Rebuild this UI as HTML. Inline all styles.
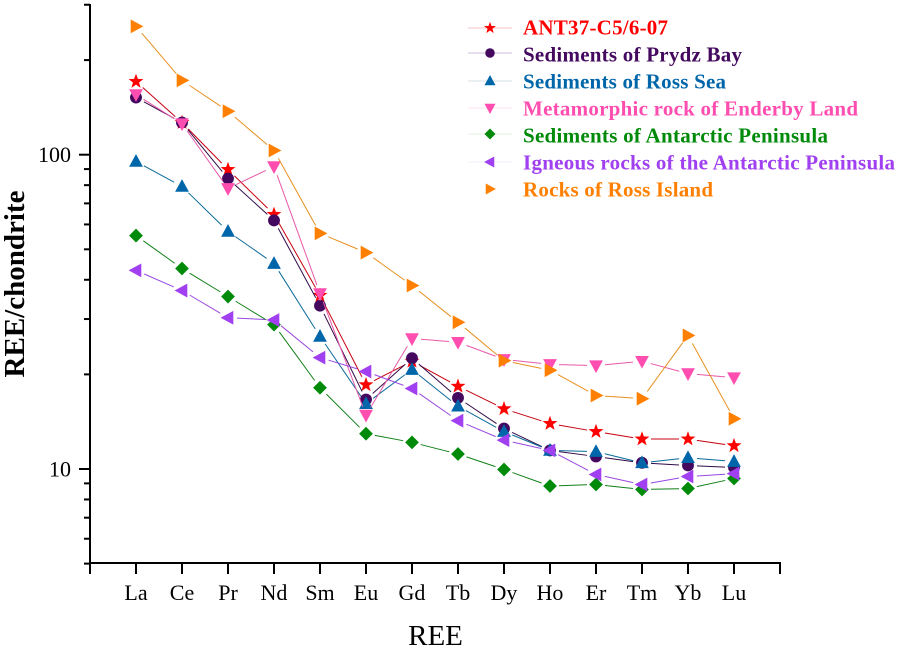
<!DOCTYPE html>
<html lang="en">
<head>
<meta charset="utf-8">
<title>REE/chondrite chart</title>
<style>
html,body{margin:0;padding:0;background:#fff;}
#chart{display:block;width:902px;height:649px;font-family:"Liberation Serif",serif;}
.leg{font-size:21px;font-weight:bold;}
</style>
</head>
<body>
<svg id="chart" xmlns="http://www.w3.org/2000/svg" width="902" height="649" viewBox="0 0 902 649">
  <rect width="902" height="649" fill="#fff"/>
  <g id="plot"></g>
  <g id="axes"></g>
  <text x="435.5" y="645" font-size="29" text-anchor="middle" fill="#000">REE</text>
  <text transform="translate(24 284) rotate(-90)" font-size="29" font-weight="bold" text-anchor="middle" fill="#000">REE/chondrite</text>
  <g id="legend">
    <text class="leg" x="523" y="34.5" fill="#ff0000" textLength="145" lengthAdjust="spacing">ANT37-C5/6-07</text>
    <text class="leg" x="523" y="61.5" fill="#44085f" textLength="219" lengthAdjust="spacing">Sediments of Prydz Bay</text>
    <text class="leg" x="523" y="88.5" fill="#0066aa" textLength="203" lengthAdjust="spacing">Sediments of Ross Sea</text>
    <text class="leg" x="523" y="115.5" fill="#ff4db0" textLength="335" lengthAdjust="spacing">Metamorphic rock of Enderby Land</text>
    <text class="leg" x="523" y="142.5" fill="#008a0a" textLength="305" lengthAdjust="spacing">Sediments of Antarctic Peninsula</text>
    <text class="leg" x="523" y="169.5" fill="#a040f0" textLength="372" lengthAdjust="spacing">Igneous rocks of the Antarctic Peninsula</text>
    <text class="leg" x="523" y="196.5" fill="#ff8000" textLength="190" lengthAdjust="spacing">Rocks of Ross Island</text>
  </g>
</svg>
<script>
const categories = ['La','Ce','Pr','Nd','Sm','Eu','Gd','Tb','Dy','Ho','Er','Tm','Yb','Lu'];
const yTickLabels = ['10','100'];
const yMajorTicks = [10,100];
const yMinorTicks = [5,6,7,8,9,20,30,40,50,60,70,80,90,200,300];
const ant37 = [171.6,127,90,64.8,35.8,18.6,22.1,18.4,15.6,14.0,13.2,12.5,12.5,11.9];
const prydzBay = [152.6,127,84.3,62,33.2,16.7,22.6,16.9,13.5,11.5,11.0,10.5,10.3,10.15];
const rossSea = [95.5,79.5,57.2,45.2,26.5,16.2,20.8,15.9,13.2,11.5,11.4,10.5,10.9,10.6];
const enderbyLand = [156,126,78.4,92,36.3,14.9,26.1,25.4,22.4,21.6,21.4,22.1,20.2,19.6];
const peninsulaSediments = [55.5,43.6,35.5,28.9,18.2,13.0,12.2,11.2,10,8.86,8.96,8.64,8.7,9.36];
const peninsulaIgneous = [43,37.1,30.4,29.9,22.7,20.5,18.1,14.3,12.4,11.5,9.64,8.96,9.5,9.7];
const rossIsland = [257,173,138,103.5,56.4,49,38.5,29.4,22.2,20.7,17.2,16.8,26.7,14.5];

const NS = 'http://www.w3.org/2000/svg';
const X0 = 90, X1 = 780, Y0 = 563, Y1 = 5;
const DECADE = 314.3;
const MARKER_SCALE = 1.06;
const LEGEND_MARKER_SCALE = 0.85;
function xScale(i){ return X0 + (X1 - X0) * (i + 1) / (categories.length + 1); }
function yScale(v){ return 469 - (Math.log10(v) - 1) * DECADE; }
function make(tag, attrs, parent){
  const el = document.createElementNS(NS, tag);
  for (const k in attrs) el.setAttribute(k, attrs[k]);
  parent.appendChild(el);
  return el;
}
function markerPath(shape, x, y, s){
  const p = (pts) => 'M' + pts.map(q => (x + q[0] * s).toFixed(2) + ' ' + (y + q[1] * s).toFixed(2)).join('L') + 'Z';
  if (shape === 'star'){
    const pts = [];
    for (let i = 0; i < 10; i++){
      const r = i % 2 ? 3 : 7.4;
      const a = -Math.PI / 2 + i * Math.PI / 5;
      pts.push([r * Math.cos(a), r * Math.sin(a)]);
    }
    return p(pts);
  }
  if (shape === 'up') return p([[0,-7],[6.5,5],[-6.5,5]]);
  if (shape === 'down') return p([[0,7],[6.5,-5],[-6.5,-5]]);
  if (shape === 'left') return p([[-7,0],[5,-6.5],[5,6.5]]);
  if (shape === 'right') return p([[7,0],[-5,-6.5],[-5,6.5]]);
  if (shape === 'diamond') return p([[0,-6.5],[6.5,0],[0,6.5],[-6.5,0]]);
  return '';
}
function drawMarker(parent, shape, x, y, s, color){
  if (shape === 'circle'){
    return make('circle', {cx:x, cy:y, r:5.6*s, fill:color}, parent);
  }
  return make('path', {d:markerPath(shape, x, y, s), fill:color}, parent);
}

const seriesList = [
  {key:'ant37', values:ant37, color:'#ff0000', line:'#c8000f', shape:'star', legendY:28, legendLine:'#f5c4c8'},
  {key:'prydz-bay', values:prydzBay, color:'#44085f', line:'#300a48', shape:'circle', legendY:53, legendLine:'#cdbcd8'},
  {key:'ross-sea', values:rossSea, color:'#0066aa', line:'#0a6a9a', shape:'up', legendY:81, legendLine:'#d4e0e6'},
  {key:'enderby-land', values:enderbyLand, color:'#ff4db0', line:'#e858a8', shape:'down', legendY:108, legendLine:'#fbe2f0'},
  {key:'antarctic-peninsula-sediments', values:peninsulaSediments, color:'#008a0a', line:'#108018', shape:'diamond', legendY:134, legendLine:'#e2f0e2'},
  {key:'antarctic-peninsula-igneous', values:peninsulaIgneous, color:'#a040f0', line:'#9848e0', shape:'left', legendY:162, legendLine:'#f6eefc'},
  {key:'ross-island', values:rossIsland, color:'#ff8000', line:'#e89020', shape:'right', legendY:189, legendLine:'#ffffff'}
];

const plot = document.getElementById('plot');
const legend = document.getElementById('legend');
const GAP = 9;
seriesList.forEach(function(s){
  const g = make('g', {transform:'translate(0 0.5)'}, plot);
  
  
  for (let i = 0; i < s.values.length - 1; i++){
    const ax = xScale(i), ay = yScale(s.values[i]);
    const bx = xScale(i + 1), by = yScale(s.values[i + 1]);
    const len = Math.hypot(bx - ax, by - ay);
    if (len <= GAP * 2) continue;
    const ux = (bx - ax) / len, uy = (by - ay) / len;
    const seg = make('line', {x1:ax + ux * GAP, y1:ay + uy * GAP, x2:bx - ux * GAP, y2:by - uy * GAP, stroke:s.line, 'stroke-width':1}, g);
    
    
  }
  s.values.forEach(function(v, i){
    const m = drawMarker(g, s.shape, xScale(i), yScale(v), MARKER_SCALE, s.color);
    
    
  });
  const ll = make('line', {x1:468, x2:512, y1:s.legendY, y2:s.legendY, stroke:s.legendLine, 'stroke-width':1}, legend);
  
  
  const lm = drawMarker(legend, s.shape, 490, s.legendY, LEGEND_MARKER_SCALE, s.color);
  
  
});

const axes = document.getElementById('axes');
const yLine = make('line', {x1:X0, x2:X0, y1:Y1 - 1, y2:Y0 + 1, stroke:'#000', 'stroke-width':2}, axes);


const xLine = make('line', {x1:X0 - 1, x2:X1 + 1, y1:Y0, y2:Y0, stroke:'#000', 'stroke-width':2}, axes);



yMajorTicks.forEach(function(v, i){
  const y = yScale(v);
  const t = make('line', {x1:79, x2:X0, y1:y, y2:y, stroke:'#000', 'stroke-width':2}, axes);
  
  
  const lab = make('text', {x:71, y:y + 7.5, 'font-size':22, 'text-anchor':'end', fill:'#000'}, axes);
  lab.textContent = yTickLabels[i];
  
  
});
yMinorTicks.forEach(function(v){
  const y = yScale(v);
  const t = make('line', {x1:84, x2:X0, y1:y, y2:y, stroke:'#000', 'stroke-width':2}, axes);
  
  
});
[X0, X1].forEach(function(x){
  const t = make('line', {x1:x, x2:x, y1:Y0, y2:574, stroke:'#000', 'stroke-width':2}, axes);
  
  
});
categories.forEach(function(c, i){
  const x = xScale(i);
  const t = make('line', {x1:x, x2:x, y1:Y0, y2:574, stroke:'#000', 'stroke-width':2}, axes);
  
  
  const lab = make('text', {x:x, y:600, 'font-size':22, 'text-anchor':'middle', fill:'#000'}, axes);
  lab.textContent = c;
  
  
});
</script>
</body>
</html>
